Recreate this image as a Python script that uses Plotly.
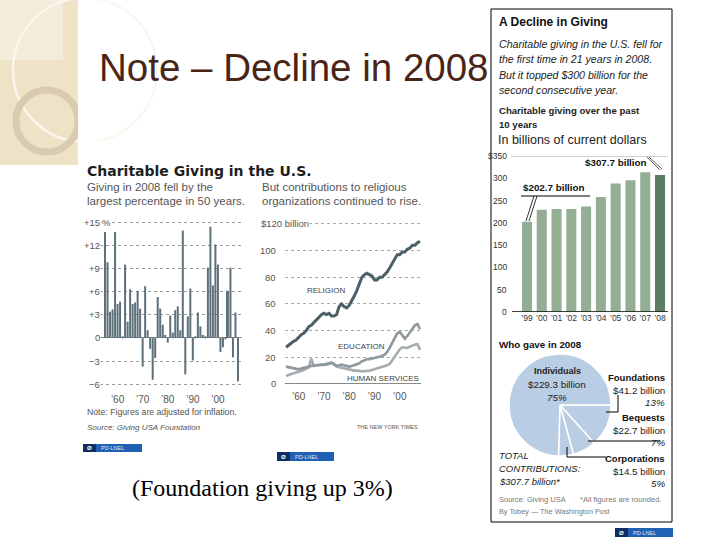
import plotly.graph_objects as go

W, H = 720, 540


def px(x):
    return x / W


def py(y):
    return 1 - y / H


# ---------------- data ----------------
giving_years = list(range(1955, 2009))
giving_change = [13.7, 9.8, 3.4, 3.7, 13.7, 4.4, 4.7, 0.1, 9.5, 2.1,
                 6.3, 4.4, 4.6, 6.1, 3.8, -3.7, 6.7, 1.0, -1.4, -5.4,
                 -2.6, 5.3, 3.8, 1.7, 0.4, -0.6, 2.9, 0.7, 3.6, 4.1,
                 1.0, 13.9, -4.7, 2.8, 6.4, -2.9, 0.1, 3.3, 1.5, 0.4,
                 0.2, 9.1, 14.4, 6.8, 12.1, 9.5, -1.8, -1.2, -0.1, 6.1,
                 9.1, -2.5, 3.3, -5.6]
giving_yticks = [15, 12, 9, 6, 3, 0, -3, -6]
decade_ticks = [1960, 1970, 1980, 1990, 2000]
decade_labels = ["’60", "’70", "’80", "’90", "’00"]

line_years = list(range(1955, 2009))
religion = [27.5, 29, 31, 32, 33, 35, 37, 38, 40, 43,
            44, 46, 48, 50, 52, 53, 52, 53, 51, 51,
            52, 58, 60, 58, 57, 59, 62, 66, 70, 75,
            80, 82, 83, 82, 81, 78, 78, 80, 80, 82,
            84, 87, 90, 94, 97, 97, 99, 99, 101, 102,
            104, 104, 106, 107]
education = [13, 12.5, 12, 11.5, 11, 11, 11.5, 12, 13, 13.5,
             14, 14, 14, 14.5, 14.5, 14.5, 15, 16, 16, 14.5,
             13.5, 14, 14.5, 14, 13.5, 13, 13.5, 14, 14.5, 15.5,
             17, 18, 18.5, 18.5, 19, 19, 19.5, 20, 21, 22,
             24, 27, 31, 35, 38, 39, 36, 34, 36, 39,
             42, 44, 45, 41]
human_services = [6, 7, 7.5, 8, 8.5, 9, 9.5, 10.5, 11.5, 12.5,
                  19, 13.5, 14, 14, 14.5, 14.5, 14.5, 15, 16, 15.5,
                  13, 12.5, 12, 11.5, 11, 10.5, 10.5, 10, 10, 9.5,
                  9.5, 9.5, 9.5, 10, 10.5, 11, 12, 12.5, 13, 13.5,
                  14, 15, 18, 21, 24, 26, 27.5, 27, 27, 28,
                  29, 29.5, 30, 25.5]
line_yticks = [0, 20, 40, 60, 80, 100, 120]

total_years = ["’99", "’00", "’01", "’02", "’03", "’04", "’05", "’06", "’07", "’08"]
total_giving = [202.7, 229.7, 231.1, 231.5, 236.7, 258.5, 288.5, 296.1, 314.1, 307.7]
total_yticks = [0, 50, 100, 150, 200, 250, 300, 350]

donor_labels = ["Foundations", "Bequests", "Corporations", "Individuals"]
donor_amounts = [41.2, 22.7, 14.5, 229.3]
donor_shares = [13, 7, 5, 75]

# ---------------- fonts/colors ----------------
SANS = "Liberation Sans, Arial, sans-serif"
BOLDSANS = "DejaVu Sans, Liberation Sans, sans-serif"
NARROW = "Liberation Sans, Arial, sans-serif"
SERIF = "Liberation Serif, Times New Roman, serif"
BAR_LEFT = "#5e717a"
GREEN = "#94ae94"
GREEN_DARK = "#5b7d63"
PIE = "#b9cde4"

fig = go.Figure()

# left bar chart
fig.add_trace(go.Bar(x=giving_years, y=giving_change, width=0.8,
                     marker=dict(color=BAR_LEFT, line=dict(width=0)),
                     xaxis="x", yaxis="y", showlegend=False))

# line chart
fig.add_trace(go.Scatter(x=line_years, y=human_services, mode="lines",
                         line=dict(color="#a4adb0", width=2.6), xaxis="x2", yaxis="y2",
                         showlegend=False))
fig.add_trace(go.Scatter(x=line_years, y=education, mode="lines",
                         line=dict(color="#8e999d", width=2.6), xaxis="x2", yaxis="y2",
                         showlegend=False))
fig.add_trace(go.Scatter(x=line_years, y=religion, mode="lines",
                         line=dict(color="#4d5f68", width=3), xaxis="x2", yaxis="y2",
                         showlegend=False))

# right bar chart
bar_colors = [GREEN_DARK if i == len(total_giving) - 1 else GREEN for i in range(len(total_giving))]
fig.add_trace(go.Bar(x=total_years, y=total_giving, width=0.68,
                     marker=dict(color=bar_colors, line=dict(width=0)),
                     xaxis="x3", yaxis="y3", showlegend=False))

# pie
fig.add_trace(go.Pie(labels=donor_labels, values=donor_amounts, sort=False,
                     direction="clockwise", rotation=90,
                     domain=dict(x=[px(509), px(611)], y=[py(456), py(354)]),
                     marker=dict(colors=[PIE] * len(donor_amounts), line=dict(color="white", width=1.5)),
                     textinfo="none", showlegend=False))

ann = []
shapes = []


def txt(x, y, s, size, color="#222", anchor="left", font=SANS, yref="paper", bg=None):
    d = dict(x=px(x), y=(py(y) if yref == "paper" else y), xref="paper", yref=yref,
             text=s, showarrow=False, xanchor=anchor, yanchor="middle",
             font=dict(size=size, color=color, family=font))
    if bg:
        d["bgcolor"] = bg
        d["borderpad"] = 0
    ann.append(d)


def line(x0, y0, x1, y1, color="black", width=1):
    shapes.append(dict(type="line", xref="paper", yref="paper", x0=px(x0), y0=py(y0), x1=px(x1), y1=py(y1),
                       line=dict(color=color, width=width)))


def rect(x0, y0, x1, y1, fill, lc=None, lw=0, layer="below"):
    shapes.append(dict(type="rect", xref="paper", yref="paper", x0=px(x0), y0=py(y1), x1=px(x1), y1=py(y0),
                       fillcolor=fill, line=dict(color=lc or fill, width=lw), layer=layer))


# decorative left strip
rect(0, 0, 78, 165, "#eee2c7")
rect(0, 0, 63, 60, "#f4ecda")
shapes.append(dict(type="circle", xref="paper", yref="paper", x0=px(13), x1=px(157), y0=py(142), y1=py(-2),
                   line=dict(color="#fbf7ee", width=2.5), layer="below"))
shapes.append(dict(type="circle", xref="paper", yref="paper", x0=px(16), x1=px(78), y0=py(152), y1=py(90),
                   line=dict(color="#d8cbb0", width=7), layer="below"))
rect(78, 0, 96, 170, "white")

# title
txt(97, 67, "Note – Decline in 2008", 38.5, "#4a2517")
txt(130, 488, "(Foundation giving up 3%)", 24, "black", font=SERIF)

# left chart texts
txt(85, 171, "<b>Charitable Giving in the U.S.</b>", 14, "#1e1e1e", font=BOLDSANS)
txt(85, 187, "Giving in 2008 fell by the", 11.5, "#555")
txt(85, 201, "largest percentage in 50 years.", 11.5, "#555")
txt(260, 187, "But contributions to religious", 11.5, "#555")
txt(260, 201, "organizations continued to rise.", 11.5, "#555")
txt(85, 412, "Note: Figures are adjusted for inflation.", 8.7, "#555")
txt(85, 427, "<i>Source: Giving USA Foundation</i>", 8, "#555")
txt(420, 427, "THE NEW YORK TIMES", 5.5, "#555", anchor="right")

for v in giving_yticks:
    lab = f"+{v}" if v > 0 else ("0" if v == 0 else f"−{abs(v)}")
    txt(101, v, lab, 9.5, "#555", anchor="right", yref="y", bg="white")
    if v == max(giving_yticks):
        txt(101, v, "%", 9.5, "#555", anchor="left", yref="y", bg="white")

for v in line_yticks:
    if v == max(line_yticks):
        txt(260, v, f"${v} billion", 9.5, "#555", anchor="left", yref="y2", bg="white")
    else:
        txt(278, v, str(v), 9.5, "#555", anchor="right", yref="y2")

txt(326, 290, "RELIGION", 8, "#444", anchor="center")
txt(361, 346, "EDUCATION", 8, "#444", anchor="center")
txt(383, 378, "HUMAN SERVICES", 8, "#444", anchor="center")

# right panel
rect(491, 9, 672, 522, "rgba(0,0,0,0)", lc="black", lw=1, layer="above")
txt(497, 22, "<b>A Decline in Giving</b>", 12, "#111", font=NARROW)
for i, s in enumerate(["Charitable giving in the U.S. fell for",
                       "the first time in 21 years in 2008.",
                       "But it topped $300 billion for the",
                       "second consecutive year."]):
    txt(497, 44 + i * 15.3, f"<i>{s}</i>", 10.6, "#222", font=NARROW)
txt(497, 111, "<b>Charitable giving over the past</b>", 9.6, "#222", font=NARROW)
txt(497, 124, "<b>10 years</b>", 9.6, "#222", font=NARROW)
txt(496, 140, "In billions of current dollars", 12.5, "#222", font=NARROW)

for v in total_yticks:
    lab = f"${v}" if v == max(total_yticks) else str(v)
    txt(509, v, lab, 8.5, "#333", anchor="right", font=NARROW, yref="y3")
shapes.append(dict(type="line", xref="paper", yref="y3", x0=px(511), x1=px(668),
                   y0=max(total_yticks), y1=max(total_yticks), line=dict(color="#999", width=0.8)))
shapes.append(dict(type="line", xref="paper", yref="y3", x0=px(512), x1=px(668),
                   y0=0, y1=0, line=dict(color="black", width=1.3)))

txt(521, 188, "<b>$202.7 billion</b>", 9.8, "#111", font=NARROW)
line(521, 196, 590, 196, "black", 1)
line(526, 221, 534, 196, "black", 0.8)
line(529, 221, 537, 196, "black", 0.8)
txt(583, 163, "<b>$307.7 billion</b>", 9.8, "#111", font=NARROW)
line(647, 157, 660, 170, "#333", 0.8)
line(649, 157, 662, 169, "#333", 0.8)

txt(497, 344, "<b>Who gave in 2008</b>", 9.8, "#111", font=NARROW)
txt(557, 371, "<b>Individuals</b>", 9, "#222", anchor="center", font=NARROW)
txt(557, 384, f"${donor_amounts[3]} billion", 9.8, "#222", anchor="center", font=NARROW)
txt(557, 397, f"<i>{donor_shares[3]}%</i>", 9.8, "#222", anchor="center", font=NARROW)

rx = 667
label_y = [377, 417, 458]
for i in range(3):
    y0 = label_y[i]
    txt(rx, y0, f"<b>{donor_labels[i]}</b>", 9.5, "#111", anchor="right", font=NARROW)
    txt(rx, y0 + 13, f"${donor_amounts[i]} billion", 9.8, "#222", anchor="right", font=NARROW)
    txt(rx, y0 + 25.5, f"<i>{donor_shares[i]}%</i>", 9.8, "#222", anchor="right", font=NARROW)

line(606, 412, 618, 412)
line(618, 412, 618, 395)
line(588, 441, 660, 441)
line(567, 447, 567, 457)
line(567, 457, 606, 457)

txt(497, 455, "<i>TOTAL</i>", 9.5, "#222", font=NARROW)
txt(497, 468, "<i>CONTRIBUTIONS:</i>", 9.5, "#222", font=NARROW)
txt(497, 481, f"<i>${sum(donor_amounts):.1f} billion*</i>", 9.5, "#222", font=NARROW)
txt(497, 499, "Source: Giving USA", 7.5, "#777", font=NARROW)
txt(578, 499, "*All figures are rounded.", 7.6, "#777", font=NARROW)
txt(497, 511, "By Tobey — The Washington Post", 7.3, "#777", font=NARROW)


# badges
def badge(x0, y0, x1, y1):
    rect(x0, y0, x1, y1, "#2061b5", layer="above")
    rect(x0, y0, x0 + 13, y1, "#0e2f63", layer="above")
    txt(x0 + 6.5, (y0 + y1) / 2, "<b>Ø</b>", 6, "white", anchor="center")
    txt(x0 + 16, (y0 + y1) / 2, "PD-LNEL", 5.5, "#dfe8f5")


badge(83, 444, 142, 452)
badge(277, 452, 334, 461)
badge(615, 528, 673, 537)

axis_common = dict(showline=False, zeroline=False, ticks="", fixedrange=True)

fig.update_layout(
    width=W, height=H, margin=dict(l=0, r=0, t=0, b=0),
    paper_bgcolor="white", plot_bgcolor="rgba(0,0,0,0)",
    showlegend=False,
    xaxis=dict(domain=[px(100), px(242)], range=[1953.0, 2009.6], anchor="y",
               tickvals=decade_ticks, ticktext=decade_labels, showgrid=False, tickangle=0,
               tickfont=dict(size=10, color="#555", family=SANS), **axis_common),
    yaxis=dict(domain=[py(392.1), py(214.3)], range=[-7, 16], anchor="x",
               tickvals=giving_yticks, showticklabels=False, showgrid=True,
               gridcolor="#999", griddash="dot", gridwidth=1,
               showline=False, ticks="", zeroline=True, zerolinecolor="#8a8a8a", zerolinewidth=1),
    xaxis2=dict(domain=[px(285), px(421)], range=[1954.6, 2008.4], anchor="y2",
                tickvals=decade_ticks, ticktext=decade_labels, showgrid=False, tickangle=0,
                tickfont=dict(size=10, color="#555", family=SANS), **axis_common),
    yaxis2=dict(domain=[py(389.3), py(217.3)], range=[-4, 125], anchor="x2",
                tickvals=line_yticks, showticklabels=False, showgrid=True,
                gridcolor="#aaa", griddash="dot", gridwidth=1,
                showline=False, ticks="", zeroline=True, zerolinecolor="#8a8a8a", zerolinewidth=1),
    xaxis3=dict(domain=[px(519.6), px(667.4)], type="category", anchor="y3", tickangle=0,
                showgrid=False, tickfont=dict(size=8.5, color="#333", family=NARROW), **axis_common),
    yaxis3=dict(domain=[py(311.7), py(156.3)], range=[0, 350], anchor="x3",
                showticklabels=False, showgrid=False, **axis_common),
    annotations=ann, shapes=shapes,
)

fig.write_html("out.html", config={"displayModeBar": False},
               post_script="document.body.style.margin='0px';document.body.style.padding='0px';")
